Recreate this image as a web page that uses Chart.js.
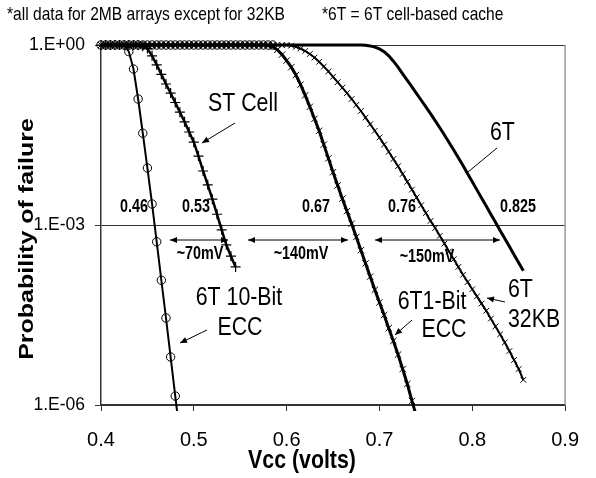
<!DOCTYPE html>
<html><head><meta charset="utf-8">
<script src="https://cdn.jsdelivr.net/npm/chart.js@4/dist/chart.umd.min.js"></script>
<style>html,body{margin:0;padding:0;background:#fff;}canvas{display:block;}</style>
</head><body>
<canvas id="c" width="596" height="478"></canvas>
<script>
const SANS = '"Liberation Sans", Arial, sans-serif';
const SQUEEZE = 0.82;   // the reference text is horizontally condensed

// ---- data (Vcc in volts, probability of failure) ----
const vccEcc10 = [0.400,0.405,0.410,0.415,0.420,0.425,0.430,0.435,0.440,0.445,0.450,0.455,0.460,0.465,0.470,0.475,0.480,0.485];
const pEcc10   = [1,1,1,1,1,1,0.776,0.398,0.126,0.0339,8.91e-3,2.24e-3,5.25e-4,1.20e-4,2.82e-5,6.31e-6,1.41e-6,3.16e-7];
const vccEcc10Flat = [0.430,0.435,0.440,0.445,0.450,0.455,0.460,0.465,0.470,0.475,0.480,0.485,0.490,0.495,0.500,0.505,0.510,0.515,0.520,0.525,0.530,0.535,0.540,0.545,0.550,0.555,0.560,0.565,0.570,0.575,0.580,0.585];
const pEcc10Flat   = [1,1,1,1,1,1,1,1,1,1,1,1,1,1,1,1,1,1,1,1,1,1,1,1,1,1,1,1,1,1,1,1];

const vccST = [0.400,0.405,0.410,0.415,0.420,0.425,0.430,0.435,0.440,0.445,0.450,0.455,0.460,0.465,0.470,0.475,0.480,0.485,0.490,0.495,0.500,0.505,0.510,0.515,0.520,0.525,0.530,0.535,0.540,0.545];
const pST   = [1,1,1,1,1,1,1,1,1,0.955,0.871,0.661,0.468,0.324,0.224,0.158,0.110,0.0759,0.0525,0.0355,0.0240,0.0141,7.94e-3,4.68e-3,2.69e-3,1.51e-3,8.32e-4,4.68e-4,3.02e-4,2.00e-4];

const vccEcc1 = [0.400,0.405,0.410,0.415,0.420,0.425,0.430,0.435,0.440,0.445,0.450,0.455,0.460,0.465,0.470,0.475,0.480,0.485,0.490,0.495,0.500,0.505,0.510,0.515,0.520,0.525,0.530,0.535,0.540,0.545,0.550,0.555,0.560,0.565,0.570,0.575,0.580,0.585,0.590,0.595,0.600,0.605,0.610,0.615,0.620,0.625,0.630,0.635,0.640,0.645,0.650,0.655,0.660,0.665,0.670,0.675,0.680,0.685,0.690,0.695,0.700,0.705,0.710,0.715,0.720,0.725,0.730,0.735,0.740];
const pEcc1   = [1,1,1,1,1,1,1,1,1,1,1,1,1,1,1,1,1,1,1,1,1,1,1,1,1,1,1,1,1,1,1,1,1,1,1,1,
  0.977,0.933,0.832,0.692,0.550,0.427,0.316,0.219,0.145,0.0933,0.0589,0.0372,0.0219,0.0129,7.59e-3,4.57e-3,2.75e-3,1.70e-3,1.05e-3,6.31e-4,3.80e-4,2.29e-4,1.38e-4,8.32e-5,5.13e-5,3.16e-5,1.91e-5,1.17e-5,6.92e-6,3.98e-6,2.24e-6,1.17e-6,6.31e-7];

const vcc32KB = [0.400,0.405,0.410,0.415,0.420,0.425,0.430,0.435,0.440,0.445,0.450,0.455,0.460,0.465,0.470,0.475,0.480,0.485,0.490,0.495,0.500,0.505,0.510,0.515,0.520,0.525,0.530,0.535,0.540,0.545,0.550,0.555,0.560,0.565,0.570,0.575,0.580,0.585,0.590,0.595,0.600,0.605,0.610,0.615,0.620,0.625,0.630,0.635,0.640,0.645,0.650,0.655,0.660,0.665,0.670,0.675,0.680,0.685,0.690,0.695,0.700,0.705,0.710,0.715,0.720,0.725,0.730,0.735,0.740,0.745,0.750,0.755,0.760,0.765,0.770,0.775,0.780,0.785,0.790,0.795,0.800,0.805,0.810,0.815,0.820,0.825,0.830,0.835,0.840,0.845,0.850,0.855];
const p32KB   = [1,1,1,1,1,1,1,1,1,1,1,1,1,1,1,1,1,1,1,1,1,1,1,1,1,1,1,1,1,1,1,1,1,1,1,1,1,1,1,1,1,
  0.977,0.933,0.871,0.794,0.708,0.617,0.525,0.437,0.363,0.295,0.240,0.195,0.158,0.126,0.100,0.0794,0.0617,0.0479,0.0372,0.0288,0.0219,0.0166,0.0126,9.55e-3,7.08e-3,5.25e-3,3.89e-3,2.88e-3,2.14e-3,1.58e-3,1.17e-3,8.91e-4,6.61e-4,4.90e-4,3.63e-4,2.69e-4,2.00e-4,1.48e-4,1.12e-4,8.51e-5,6.46e-5,4.90e-5,3.72e-5,2.75e-5,2.04e-5,1.51e-5,1.10e-5,7.94e-6,5.62e-6,3.98e-6,2.63e-6];

const vcc6T = [0.400,0.680,0.685,0.690,0.695,0.700,0.705,0.710,0.715,0.720,0.725,0.730,0.735,0.740,0.745,0.750,0.755,0.760,0.765,0.770,0.775,0.780,0.785,0.790,0.795,0.800,0.805,0.810,0.815,0.820,0.825,0.830,0.835,0.840,0.845,0.850,0.855];
const p6T   = [1,1,0.989,0.966,0.923,0.861,0.776,0.661,0.537,0.427,0.331,0.257,0.200,0.155,0.120,0.0933,0.0716,0.0550,0.0417,0.0316,0.0237,0.0178,0.0132,9.77e-3,7.16e-3,5.25e-3,3.85e-3,2.82e-3,2.07e-3,1.51e-3,1.11e-3,8.13e-4,5.96e-4,4.37e-4,3.20e-4,2.34e-4,1.72e-4];

const yTickValues = [1e-6, 1e-3, 1];
const yTickLabels = ['1.E-06', '1.E-03', '1.E+00'];
const xTickValues = [0.4, 0.5, 0.6, 0.7, 0.8, 0.9];
const xTickLabels = ['0.4', '0.5', '0.6', '0.7', '0.8', '0.9'];

const pts = (xs, ys) => xs.map((x, i) => ({x, y: ys[i]}));

// ---- annotation helpers (pixel layout) ----
function text(ctx, str, x, y, size, bold, align) {
  ctx.save();
  ctx.translate(x, y);
  ctx.scale(SQUEEZE, 1);
  ctx.font = (bold ? 'bold ' : '') + size + 'px ' + SANS;
  ctx.textAlign = align || 'left';
  ctx.textBaseline = 'middle';
  ctx.fillText(str, 0, 0);
  ctx.restore();
}
function arrowHead(ctx, x1, y1, x2, y2, len, wid) {
  const a = Math.atan2(y2 - y1, x2 - x1);
  ctx.beginPath();
  ctx.moveTo(x2, y2);
  ctx.lineTo(x2 - len * Math.cos(a) + wid * Math.sin(a), y2 - len * Math.sin(a) - wid * Math.cos(a));
  ctx.lineTo(x2 - len * Math.cos(a) - wid * Math.sin(a), y2 - len * Math.sin(a) + wid * Math.cos(a));
  ctx.closePath();
  ctx.fill();
}
function arrow(ctx, x1, y1, x2, y2, both) {
  ctx.beginPath(); ctx.moveTo(x1, y1); ctx.lineTo(x2, y2); ctx.stroke();
  arrowHead(ctx, x1, y1, x2, y2, 7, 3);
  if (both) arrowHead(ctx, x2, y2, x1, y1, 7, 3);
}

const annot = {
  id: 'annot',
  afterDraw(chart) {
    const ctx = chart.ctx;
    const a = chart.chartArea;
    ctx.save();
    ctx.strokeStyle = '#9a9a9a'; ctx.lineWidth = 1.5;
    ctx.beginPath(); ctx.moveTo(a.right, a.top); ctx.lineTo(a.right, a.bottom); ctx.stroke();

    ctx.fillStyle = '#000'; ctx.strokeStyle = '#000'; ctx.lineWidth = 1;
    text(ctx, '*all data for 2MB arrays except for 32KB', 7, 15, 19, false, 'left');
    text(ctx, '*6T = 6T cell-based cache', 322, 15, 19, false, 'left');

    text(ctx, '0.46', 134, 207, 17.5, true, 'center');
    text(ctx, '0.53', 196, 207, 17.5, true, 'center');
    text(ctx, '0.67', 316, 207, 17.5, true, 'center');
    text(ctx, '0.76', 402, 207, 17.5, true, 'center');
    text(ctx, '0.825', 518, 207, 17.5, true, 'center');
    text(ctx, '~70mV', 200, 254, 17.5, true, 'center');
    text(ctx, '~140mV', 301, 254, 17.5, true, 'center');
    text(ctx, '~150mV', 427, 257, 17.5, true, 'center');
    arrow(ctx, 170, 240, 228, 240, true);
    arrow(ctx, 248, 240, 348, 240, true);
    arrow(ctx, 375, 240, 500, 240, true);

    text(ctx, 'ST Cell', 208, 104, 26, false, 'left');
    arrow(ctx, 235, 123, 202, 143, false);
    text(ctx, '6T', 490, 133, 26, false, 'left');
    ctx.beginPath(); ctx.moveTo(497, 148); ctx.lineTo(468, 172); ctx.stroke();
    text(ctx, '6T 10-Bit', 239, 298, 26, false, 'center');
    text(ctx, 'ECC', 240, 328, 26, false, 'center');
    arrow(ctx, 207, 330, 180, 343, false);
    text(ctx, '6T1-Bit', 432, 302, 26, false, 'center');
    text(ctx, 'ECC', 444, 330, 26, false, 'center');
    arrow(ctx, 412, 320, 395, 335, false);
    text(ctx, '6T', 508, 290, 26, false, 'left');
    text(ctx, '32KB', 508, 320, 26, false, 'left');
    arrow(ctx, 505, 302, 487, 298, false);

    text(ctx, 'Vcc (volts)', 302, 461, 26, true, 'center');
    ctx.save();
    ctx.translate(27, 239);
    ctx.scale(SQUEEZE, 1);
    ctx.rotate(-Math.PI / 2);
    ctx.font = 'bold 25px ' + SANS;
    ctx.textAlign = 'center'; ctx.textBaseline = 'middle';
    ctx.fillText('Probability of failure', 0, 0);
    ctx.restore();
    ctx.restore();
  }
};

const base = { showLine: true, borderColor: '#000', pointBorderColor: '#000', pointBackgroundColor: 'rgba(0,0,0,0)', tension: 0, clip: {left: 6, top: 6, right: 6, bottom: 6} };

new Chart(document.getElementById('c'), {
  type: 'scatter',
  data: { datasets: [
    Object.assign({}, base, { label: '6T', data: pts(vcc6T, p6T), borderWidth: 3, pointRadius: 0 }),
    Object.assign({}, base, { label: '6T 32KB', data: pts(vcc32KB, p32KB), borderWidth: 2, pointStyle: 'crossRot', pointRadius: 4, pointBorderWidth: 1 }),
    Object.assign({}, base, { label: '6T 1-Bit ECC', data: pts(vccEcc1, pEcc1), borderWidth: 3, pointStyle: 'crossRot', pointRadius: 4.5, pointBorderWidth: 1 }),
    Object.assign({}, base, { label: 'ST Cell', data: pts(vccST, pST), borderWidth: 2.5, pointStyle: 'cross', pointRadius: 5, pointBorderWidth: 1.2 }),
    Object.assign({}, base, { label: '6T 10-Bit ECC', data: pts(vccEcc10, pEcc10), borderWidth: 2, pointStyle: 'circle', pointRadius: 4.2, pointBorderWidth: 1 }),
    Object.assign({}, base, { label: '6T 10-Bit ECC (p=1)', data: pts(vccEcc10Flat, pEcc10Flat), showLine: false, pointStyle: 'circle', pointRadius: 4.2, pointBorderWidth: 1 })
  ]},
  options: {
    responsive: false, animation: false, devicePixelRatio: 1,
    layout: { padding: { left: 0, right: 29, top: 45, bottom: 0 } },
    plugins: { legend: { display: false }, tooltip: { enabled: false } },
    scales: {
      x: {
        type: 'linear', min: 0.4, max: 0.9,
        afterFit(s) { s.height = 73; },
        afterBuildTicks(s) { s.ticks = xTickValues.map(v => ({value: v})); },
        ticks: { padding: 17, color: '#000', font: { family: SANS, size: 20 },
          callback: (v) => xTickLabels[xTickValues.findIndex(t => Math.abs(t - v) < 1e-9)] },
        grid: { drawOnChartArea: false, tickLength: 6, color: '#333', lineWidth: 1 },
        border: { color: '#333', width: 1.5 }
      },
      y: {
        type: 'logarithmic', min: 1e-6, max: 1,
        afterFit(s) { s.width = 101; },
        afterBuildTicks(s) { s.ticks = yTickValues.map(v => ({value: v})); },
        ticks: { padding: 10, color: '#000', font: { family: SANS, size: 17.5 },
          callback: (v) => yTickLabels[yTickValues.findIndex(t => Math.abs(Math.log10(t) - Math.log10(v)) < 1e-6)] },
        grid: { tickLength: 6, color: '#333', lineWidth: 1 },
        border: { color: '#333', width: 1.5 }
      }
    }
  },
  plugins: [annot]
});
</script>
</body></html>
